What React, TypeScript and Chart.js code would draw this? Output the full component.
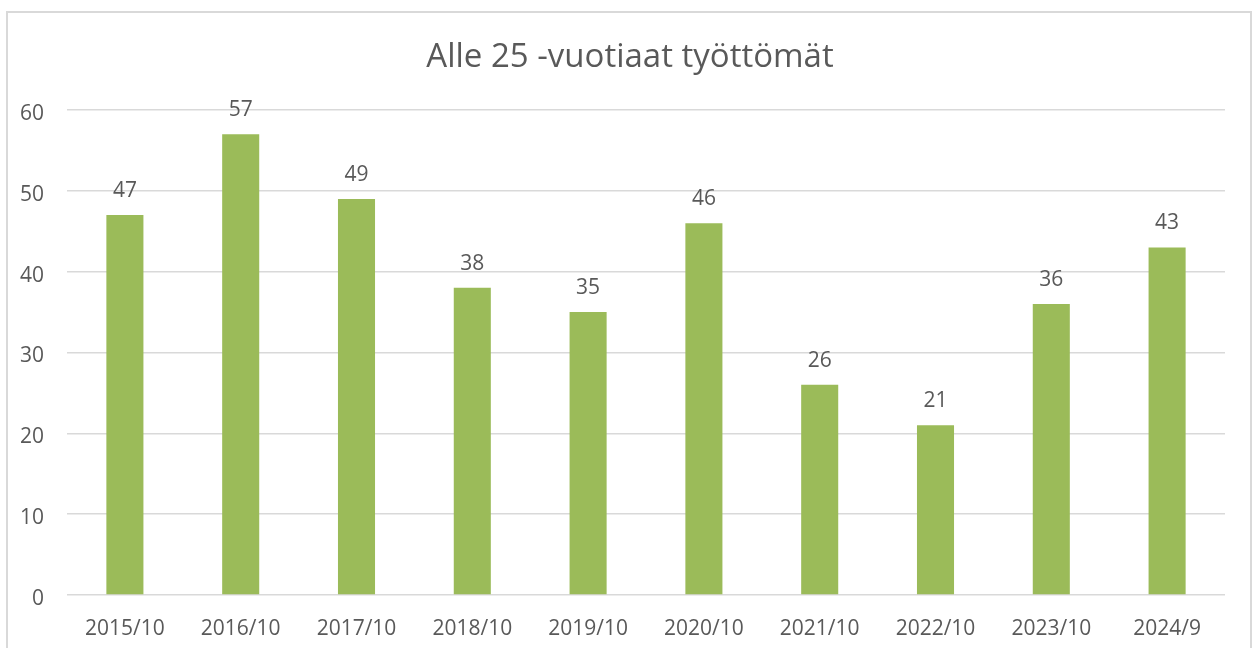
import React, { useEffect, useRef } from "react";
import { Chart, registerables } from "chart.js";

Chart.register(...registerables);

const categories = ["2015/10", "2016/10", "2017/10", "2018/10", "2019/10", "2020/10", "2021/10", "2022/10", "2023/10", "2024/9"];
const values = [47, 57, 49, 38, 35, 46, 26, 21, 36, 43];
const titleText = "Alle 25 -vuotiaat työttömät";
const yTicks = [0, 10, 20, 30, 40, 50, 60];

const FONT = "'Open Sans', sans-serif";
const TEXT = "#595959";

const dataLabels = {
  id: "dataLabels",
  afterDatasetsDraw(chart: any) {
    const ctx = chart.ctx;
    const meta = chart.getDatasetMeta(0);
    ctx.save();
    ctx.fillStyle = TEXT;
    ctx.font = `21px ${FONT}`;
    ctx.textAlign = "center";
    ctx.textBaseline = "alphabetic";
    meta.data.forEach((bar: any, i: number) => {
      ctx.fillText(String(values[i]), bar.x, bar.y - 18);
    });
    ctx.restore();
  },
};

const frameTitle = {
  id: "frameTitle",
  afterDraw(chart: any) {
    const ctx = chart.ctx;
    ctx.save();
    ctx.fillStyle = TEXT;
    ctx.font = `33px ${FONT}`;
    ctx.textAlign = "center";
    ctx.textBaseline = "alphabetic";
    ctx.fillText(titleText, 630, 67);
    ctx.restore();
  },
};

export default function App() {
  const ref = useRef<HTMLCanvasElement>(null);
  useEffect(() => {
    if (!ref.current) return;
    const chart = new Chart(ref.current, {
      type: "bar",
      data: {
        labels: categories,
        datasets: [
          {
            data: values,
            backgroundColor: "#9BBB59",
            categoryPercentage: 1,
            barPercentage: 0.32,
          },
        ],
      },
      options: {
        responsive: false,
        animation: false,
        layout: { padding: { top: 110, right: 30, left: 0, bottom: 0 } },
        plugins: {
          legend: { display: false },
          tooltip: { enabled: false },
          title: { display: false },
        },
        scales: {
          x: {
            grid: { display: false, drawTicks: false },
            border: { display: false },
            ticks: { color: TEXT, font: { family: FONT, size: 21 }, padding: 21, maxRotation: 0 },
            afterFit(scale: any) {
              scale.height = 53;
            },
          },
          y: {
            min: 0,
            max: 60,
            afterBuildTicks(scale: any) {
              scale.ticks = yTicks.map((v) => ({ value: v }));
            },
            grid: { color: "#d9d9d9", lineWidth: 1.5, drawTicks: false },
            border: { display: false },
            ticks: { color: TEXT, font: { family: FONT, size: 21 }, padding: 23, labelOffset: 4 },
            afterFit(scale: any) {
              scale.width = 67;
            },
          },
        },
      },
      plugins: [dataLabels, frameTitle],
    });
    return () => chart.destroy();
  }, []);
  return (
    <>
      <canvas
        ref={ref}
        width={1255}
        height={648}
        style={{ position: "fixed", left: 0, top: 0, width: 1255, height: 648 }}
      />
      <div
        style={{
          position: "fixed",
          left: 6,
          top: 11,
          width: 1246,
          height: 700,
          boxSizing: "border-box",
          border: "2px solid #d9d9d9",
          pointerEvents: "none",
        }}
      />
    </>
  );
}
